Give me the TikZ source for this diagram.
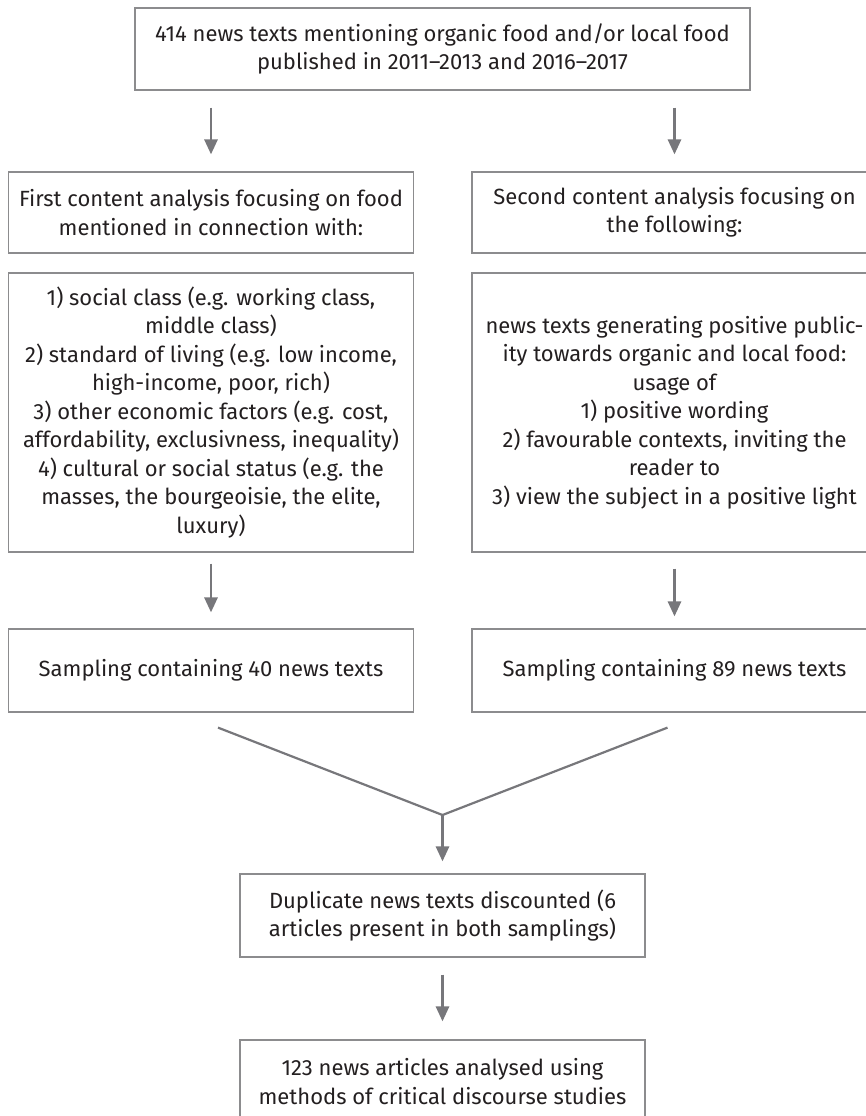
\documentclass[tikz,border=0pt]{standalone}
\usepackage{fontspec}
\setmainfont{Fira Sans}
\usetikzlibrary{arrows.meta}
\definecolor{frame}{HTML}{8C8C8E}
\definecolor{flow}{HTML}{77777B}
\definecolor{ink}{HTML}{231F20}

\begin{document}
\begin{tikzpicture}[x=0.5pt,y=-0.5pt,box/.style={draw=frame,line width=0.6pt,text=ink,minimum width=202.5pt,minimum height=41.5pt,align=center,inner sep=0pt,font=\fontsize{11}{14.25}\selectfont},arrow/.style={-{Triangle[length=7.5pt,width=6.5pt]},line width=1.4pt,flow},link/.style={line width=1.1pt,flow}]
 \clip (0,0) rectangle (866,1116);
 \node[box,minimum width=307.5pt,minimum height=41pt] (corpus) at (442.5,49) {414 news texts mentioning organic food and/or local food\\published in 2011--2013 and 2016--2017};
 \node[box,minimum height=40.5pt] (first) at (211,212.5) {First content analysis focusing on food\\mentioned in connection with:};
 \node[box,minimum height=40.5pt] (second) at (674.5,212.5) {Second content analysis focusing on\\the following:};
 \node[box,minimum height=139.5pt] (classes) at (211,412.5) {1) social class (e.g. working class,\\middle class)\\2) standard of living (e.g. low income,\\high-income, poor, rich)\\3) other economic factors (e.g. cost,\\affordability, exclusivness, inequality)\\4) cultural or social status (e.g. the\\masses, the bourgeoisie, the elite,\\luxury)};
 \node[box,minimum height=139.5pt] (publicity) at (674.5,412.5) {news texts generating positive public-\\ity towards organic and local food:\\usage of\\1) positive wording\\2) favourable contexts, inviting the\\reader to\\3) view the subject in a positive light};
 \node[box] (sampleA) at (211,670.5) {Sampling containing 40 news texts};
 \node[box] (sampleB) at (674.5,670.5) {Sampling containing 89 news texts};
 \coordinate (merge) at (442.5,815);
 \node[box] (dedup) at (442.5,915.5) {Duplicate news texts discounted (6\\articles present in both samplings)};
 \node[box] (final) at (442.5,1081.5) {123 news articles analysed using\\methods of critical discourse studies};
 \draw[arrow,shorten <=8.5pt,shorten >=8.5pt] (corpus.south -| first) -- (first.north);
 \draw[arrow,shorten <=8.5pt,shorten >=8.5pt] (corpus.south -| second) -- (second.north);
 \draw[arrow,shorten <=5.5pt,shorten >=8pt] (classes) -- (sampleA);
 \draw[arrow,shorten <=8pt,shorten >=6pt] (publicity) -- (sampleB);
 \draw[link] ([shift={(7,15)}]sampleA.south) -- (merge) -- ([shift={(-7,15)}]sampleB.south);
 \draw[arrow,shorten >=6pt] (merge) -- (dedup);
 \draw[arrow,shorten <=8.5pt,shorten >=9pt] (dedup) -- (final);
\end{tikzpicture}
\end{document}
